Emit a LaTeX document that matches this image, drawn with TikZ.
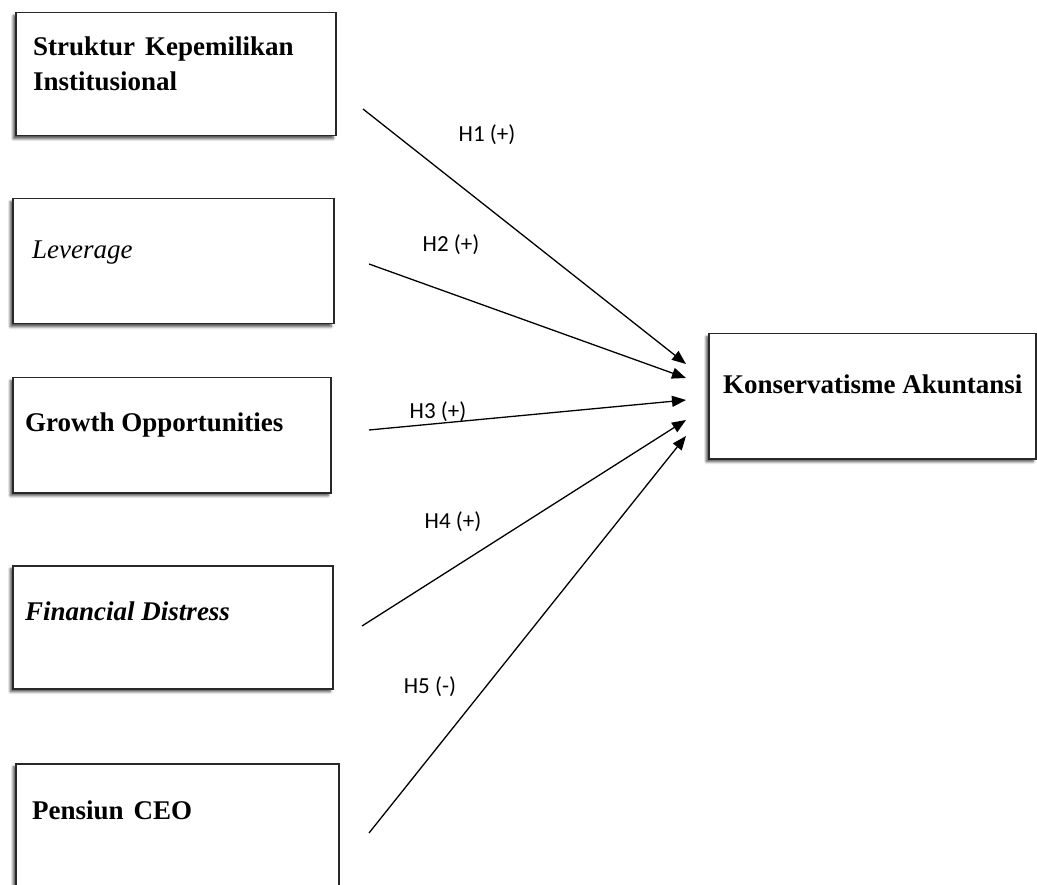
\documentclass[tikz,border=0pt]{standalone}
\usepackage{fontspec}
\setmainfont{Liberation Serif}
\newfontfamily\calibri{Carlito}
\usepackage{tikz}
\usetikzlibrary{arrows.meta, shadows.blur}
\definecolor{boxline}{RGB}{40, 40, 40}

\begin{document}
\begin{tikzpicture}[x=1pt, y=-1pt,
    varbox/.style={draw=boxline, line width=1.5pt, fill=white, inner sep=0pt,
      anchor=north west,
      blur shadow={shadow xshift=-2.5pt, shadow yshift=-3pt, shadow blur radius=2.5pt, shadow opacity=70}},
    vartext/.style={font=\fontsize{27}{35}\selectfont\bfseries, inner sep=0pt,
      anchor=north west, align=left},
    hyp/.style={line width=1.3pt, -{Triangle[length=14pt, width=11pt]}},
    hyplabel/.style={font=\calibri\fontsize{23}{26}\selectfont, inner sep=0pt}]
    \useasboundingbox (0,0) rectangle (1037,885);

    %% independent variables
    \node[varbox, minimum width=320pt, minimum height=123pt] (sk) at (15,12) {};
    \node[vartext] (sktext) at (33,37) {Struktur\hspace{0.12em} Kepemilikan\\Institusional};

    \node[varbox, minimum width=321pt, minimum height=125pt] (lev) at (12,198) {};
    \node[vartext, font=\fontsize{27}{35}\selectfont\itshape] (levtext) at (32,241) {Leverage};

    \node[varbox, minimum width=318pt, minimum height=115pt] (go) at (12,377) {};
    \node[vartext] (gotext) at (25,413) {Growth Opportunities};

    \node[varbox, minimum width=320pt, minimum height=123pt] (fd) at (12,565) {};
    \node[vartext, font=\fontsize{27}{35}\selectfont\bfseries\itshape] (fdtext) at (25,602) {Financial Distress};

    \node[varbox, minimum width=323pt, minimum height=140pt] (ceo) at (15,763) {};
    \node[vartext] (ceotext) at (32,801) {Pensiun\hspace{0.12em} CEO};

    %% dependent variable
    \node[varbox, minimum width=327pt, minimum height=125pt] (ka) at (708,333) {};
    \node[vartext] (katext) at (723,375) {Konservatisme Akuntansi};

    %% arrow ends
    \coordinate (s1) at (363,109);
    \coordinate (s2) at (369,264);
    \coordinate (s3) at (369,430);
    \coordinate (s4) at (362,626);
    \coordinate (s5) at (369,833);
    \coordinate (e1) at (686,364);
    \coordinate (e2) at (686,378);
    \coordinate (e3) at (686,400);
    \coordinate (e4) at (686,420);
    \coordinate (e5) at (686,436);

    \draw[hyp] (s1) -- (e1);
    \draw[hyp] (s2) -- (e2);
    \draw[hyp] (s3) -- (e3);
    \draw[hyp] (s4) -- (e4);
    \draw[hyp] (s5) -- (e5);

    %% hypothesis labels
    \node[hyplabel] (h1) at (487,135) {H1 (+)};
    \node[hyplabel] (h2) at (451,245) {H2 (+)};
    \node[hyplabel] (h3) at (438,412) {H3 (+)};
    \node[hyplabel] (h4) at (453,522) {H4 (+)};
    \node[hyplabel] (h5) at (430,687) {H5 (-)};
\end{tikzpicture}
\end{document}
